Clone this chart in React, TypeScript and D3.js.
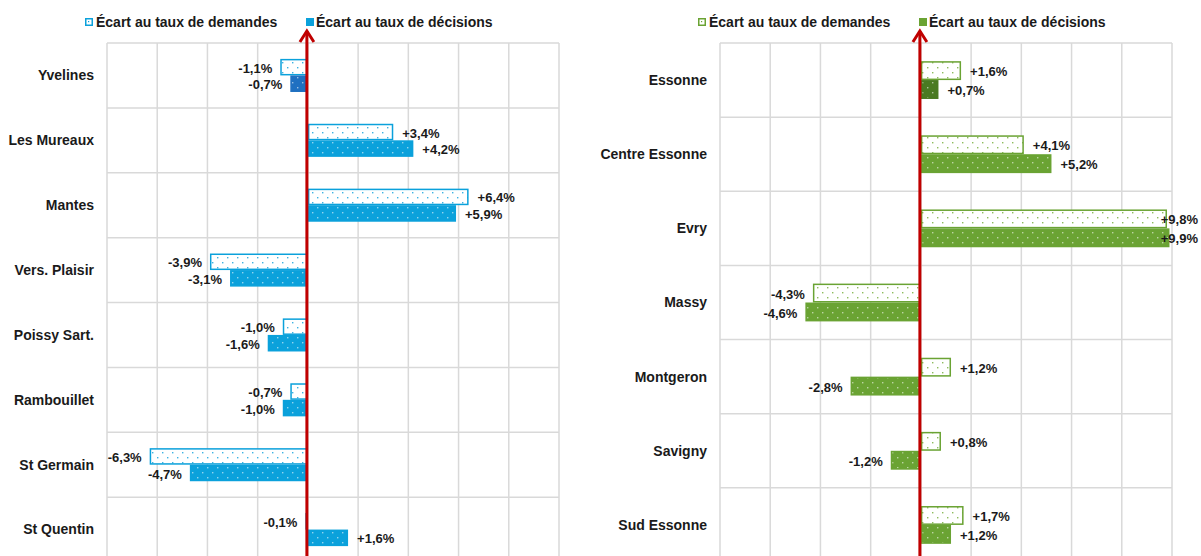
import React from 'react';
import * as d3 from 'd3';

const W = 1201;
const H = 556;

const CATS_L = ['Yvelines', 'Les Mureaux', 'Mantes', 'Vers. Plaisir', 'Poissy Sart.', 'Rambouillet', 'St Germain', 'St Quentin'];
const DEM_L = [-1.1, 3.4, 6.4, -3.9, -1.0, -0.7, -6.3, -0.1];
const DEC_L = [-0.7, 4.2, 5.9, -3.1, -1.6, -1.0, -4.7, 1.6];

const CATS_R = ['Essonne', 'Centre Essonne', 'Evry', 'Massy', 'Montgeron', 'Savigny', 'Sud Essonne'];
const DEM_R = [1.6, 4.1, 9.8, -4.3, 1.2, 0.8, 1.7];
const DEC_R = [0.7, 5.2, 9.9, -4.6, -2.8, -1.2, 1.2];

const X_DOMAIN = [-8, 10];
const X_TICKS = [-8, -6, -4, -2, 0, 2, 4, 6, 8, 10];
const LEGEND = ['Écart au taux de demandes', 'Écart au taux de décisions'];

const FONT = '"Liberation Sans", Arial, Helvetica, sans-serif';

let ctx: CanvasRenderingContext2D | null = null;
function textW(s: string, size: number) {
  if (!ctx) {
    const c = document.createElement('canvas');
    ctx = c.getContext('2d');
  }
  if (!ctx) return s.length * size * 0.55;
  ctx.font = `bold ${size}px ${FONT}`;
  return ctx.measureText(s).width;
}

const fmt = (v: number) => (v > 0 ? '+' : '-') + Math.abs(v).toFixed(1).replace('.', ',') + '%';

type Colors = { main: string; dark: string; dotDem: string; dotDec: string };

function Panel({ id, cats, dem, dec, left, right, top, bottom, colors }:
  { id: string; cats: string[]; dem: number[]; dec: number[]; left: number; right: number; top: number; bottom: number; colors: Colors }) {
  const x = d3.scaleLinear().domain(X_DOMAIN).range([left, right]);
  const y = d3.scaleBand<string>().domain(cats).range([top, bottom]).paddingInner(0).paddingOuter(0);
  const bw = y.bandwidth();
  const bh = bw * 0.255;
  const x0 = x(0);
  const grid = '#d9d9d9';

  const pat = (pid: string, bg: string, dot: string) => (
    <pattern id={pid} width={10} height={10} patternUnits="userSpaceOnUse">
      <rect width={10} height={10} fill={bg} />
      <rect x={2} y={2} width={1.4} height={1.4} fill={dot} />
      <rect x={7} y={7} width={1.4} height={1.4} fill={dot} />
    </pattern>
  );

  const labelEls: React.ReactNode[] = [];
  const barEls: React.ReactNode[] = [];
  cats.forEach((c, i) => {
    const cy = (y(c) as number) + bw / 2;
    const series = [
      { v: dem[i], y0: cy - bh, kind: 'dem' },
      { v: dec[i], y0: cy, kind: 'dec' },
    ];
    series.forEach((s, j) => {
      const xv = x(s.v);
      const bx = Math.min(x0, xv);
      const wdt = Math.abs(xv - x0);
      let fill: string;
      let stroke: string;
      if (s.kind === 'dem') {
        fill = `url(#${id}-dem)`;
        stroke = colors.main;
      } else if (i === 0) {
        fill = `url(#${id}-decd)`;
        stroke = colors.dark;
      } else {
        fill = `url(#${id}-dec)`;
        stroke = colors.main;
      }
      barEls.push(
        <rect key={`b${i}-${j}`} x={bx + 0.75} y={s.y0 + 0.75} width={Math.max(wdt - 1.5, 0.5)} height={bh - 1.5}
          fill={fill} stroke={stroke} strokeWidth={1.5} />
      );
      const txt = fmt(s.v);
      const tw = textW(txt, 13);
      let lx: number;
      let anchor: 'start' | 'end';
      if (s.v >= 0) {
        lx = xv + 9;
        anchor = 'start';
        if (lx + tw > W - 3) {
          lx = W - 3;
          anchor = 'end';
        }
      } else {
        lx = xv - 8;
        anchor = 'end';
      }
      labelEls.push(
        <text key={`l${i}-${j}`} x={lx} y={s.y0 + bh / 2 + 1} dy="0.35em" textAnchor={anchor}
          fontSize={13} fontWeight="bold" fill="#1a1a1a" fontFamily={FONT}>{txt}</text>
      );
    });
  });

  const legX = left - 22;
  return (
    <g>
      <defs>
        {pat(`${id}-dem`, '#ffffff', colors.dotDem)}
        {pat(`${id}-dec`, colors.main, colors.dotDec)}
        {pat(`${id}-decd`, colors.dark, colors.dotDec)}
      </defs>
      {/* grid */}
      {X_TICKS.map((t) => (
        <line key={`v${t}`} x1={x(t)} x2={x(t)} y1={top} y2={bottom} stroke={grid} strokeWidth={1.5} />
      ))}
      {cats.map((c) => (
        <line key={`h${c}`} x1={left} x2={right} y1={y(c)} y2={y(c)} stroke={grid} strokeWidth={1.5} />
      ))}
      <line x1={left} x2={right} y1={bottom} y2={bottom} stroke={grid} strokeWidth={1.5} />
      {/* category labels */}
      {cats.map((c) => (
        <text key={`c${c}`} x={left - 13} y={(y(c) as number) + bw / 2} dy="0.35em" textAnchor="end"
          fontSize={14} fontWeight="bold" fill="#1a1a1a" fontFamily={FONT}>{c}</text>
      ))}
      {barEls}
      {labelEls}
      {/* red arrow axis */}
      <line x1={x0 - 1} x2={x0 - 1} y1={31} y2={H + 5} stroke="#c00000" strokeWidth={3} />
      <path d={`M${x0 - 8},${42} L${x0 - 1},${31} L${x0 + 6},${42}`} fill="none" stroke="#c00000" strokeWidth={3} />
      {/* legend */}
      <rect x={legX + 0.75} y={18.75} width={6.5} height={6.5} fill="#fff" stroke={colors.main} strokeWidth={1.5} />
      <rect x={legX + 3} y={21} width={1.2} height={1.2} fill={colors.main} />
      <text x={legX + 11} y={22} dy="0.35em" fontSize={14} fontWeight="bold" fill="#1a1a1a" fontFamily={FONT}>{LEGEND[0]}</text>
      <rect x={legX + 221} y={18} width={8} height={8} fill={colors.main} />
      <text x={legX + 231} y={22} dy="0.35em" fontSize={14} fontWeight="bold" fill="#1a1a1a" fontFamily={FONT}>{LEGEND[1]}</text>
    </g>
  );
}

export default function App() {
  const blue: Colors = { main: '#0ba1db', dark: '#1f70c1', dotDem: '#3cb2e2', dotDec: 'rgba(255,255,255,0.55)' };
  const green: Colors = { main: '#6aa333', dark: '#4a7a22', dotDem: '#8cbb5e', dotDec: 'rgba(255,255,255,0.55)' };
  return (
    <svg width={W} height={H} style={{ position: 'absolute', left: 0, top: 0, background: '#fff' }}
      xmlns="http://www.w3.org/2000/svg">
      <rect width={W} height={H} fill="#fff" />
      <Panel id="l" cats={CATS_L} dem={DEM_L} dec={DEC_L} left={107} right={559} top={43} bottom={562} colors={blue} />
      <Panel id="r" cats={CATS_R} dem={DEM_R} dec={DEC_R} left={720} right={1172} top={43} bottom={562} colors={green} />
    </svg>
  );
}
